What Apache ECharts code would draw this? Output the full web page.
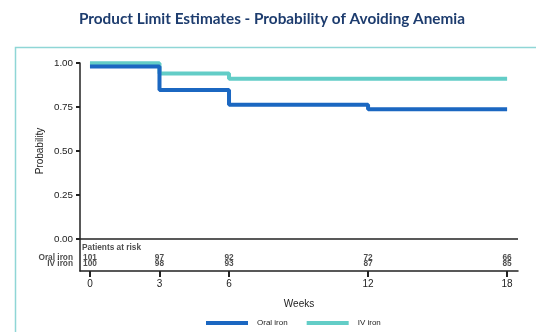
<!DOCTYPE html>
<html>
<head>
<meta charset="utf-8">
<script src="https://cdn.jsdelivr.net/npm/echarts@6/dist/echarts.min.js"></script>
<style>
  html, body { margin: 0; padding: 0; background: #fff; }
  #chart { width: 536px; height: 332px; }
</style>
</head>
<body>
<div id="chart"></div>
<script>
// Kaplan–Meier step estimates (weeks, probability)
const weeksOral = [0, 3, 6, 12, 18];
const probOral  = [0.98, 0.847, 0.763, 0.737, 0.737];
const weeksIV   = [0, 3, 6, 18];
const probIV    = [0.998, 0.941, 0.911, 0.911];

// Number at risk table
const riskWeeks = [0, 3, 6, 12, 18];
const riskOral  = [101, 97, 92, 72, 66];
const riskIV    = [100, 98, 93, 87, 85];

const xTicks = [0, 3, 6, 12, 18];
const yTicks = [0, 0.25, 0.5, 0.75, 1];

const COLOR_ORAL = '#1b67c1';
const COLOR_IV = '#63cdc7';
const TEXT = '#222';

// vertical positions of the at-risk table rows, below the 0.00 baseline
const Y_HEADER = -0.051, Y_ROW_ORAL = -0.106, Y_ROW_IV = -0.142;
const X_MIN = -0.43, X_MAX = 18.47, Y_MIN = -0.182;

const zip = (a, b) => a.map((v, i) => [v, b[i]]);

const chart = echarts.init(document.getElementById('chart'), null, { renderer: 'canvas' });

const tableLabel = (fmt, pos) => ({
  show: true, position: pos || 'inside', formatter: fmt,
  fontFamily: 'Liberation Sans', fontWeight: 'bold', fontSize: 8.3, color: TEXT
});

chart.setOption({
  animation: false,
  title: {
    text: 'Product Limit Estimates - Probability of Avoiding Anemia',
    left: 74, top: 7,
    textStyle: { fontFamily: 'Lato', fontWeight: 'bold', fontSize: 15.3, color: '#1d3c6e' }
  },
  graphic: [
    { type: 'rect', shape: { x: 15.5, y: 47.5, width: 600, height: 400 },
      style: { fill: 'none', stroke: '#8fd6d6', lineWidth: 1.5 }, z: -1 },
    { type: 'text', x: 40, y: 151, rotation: Math.PI / 2,
      style: { text: 'Probability', fontFamily: 'Liberation Sans', fontSize: 10,
               fill: TEXT, align: 'center', verticalAlign: 'middle' } }
  ],
  legend: {
    bottom: 0, left: 201,
    itemWidth: 42, itemHeight: 4, itemGap: 19,
    icon: 'rect',
    textStyle: { fontFamily: 'Liberation Sans', fontSize: 8, color: TEXT, padding: [0, 0, 0, 4] },
    data: ['Oral iron', 'IV iron']
  },
  grid: { left: 80, right: 18, top: 63, bottom: 61 },
  xAxis: {
    type: 'value', min: X_MIN, max: X_MAX,
    name: 'Weeks', nameLocation: 'middle', nameGap: 28,
    nameTextStyle: { fontFamily: 'Liberation Sans', fontSize: 10, color: TEXT },
    axisLine: { onZero: false, lineStyle: { color: '#222', width: 1.5 } },
    axisTick: { customValues: xTicks, length: 6, lineStyle: { color: '#222', width: 2 } },
    axisLabel: { customValues: xTicks, fontFamily: 'Liberation Sans', fontSize: 10, color: TEXT, margin: 8 },
    splitLine: { show: false }
  },
  yAxis: {
    type: 'value', min: Y_MIN, max: 1,
    axisLine: { show: true, onZero: false, lineStyle: { color: '#222', width: 1.5 } },
    axisTick: { customValues: yTicks, length: 4, lineStyle: { color: '#222', width: 2 } },
    axisLabel: { customValues: yTicks, formatter: v => v.toFixed(2),
                 fontFamily: 'Liberation Sans', fontSize: 9.8, color: TEXT, margin: 7 },
    splitLine: { show: false }
  },
  series: [
    {
      name: 'IV iron', type: 'line', step: 'end', showSymbol: false,
      data: zip(weeksIV, probIV),
      lineStyle: { color: COLOR_IV, width: 4 }, itemStyle: { color: COLOR_IV },
      markLine: {
        silent: true, symbol: 'none', label: { show: false },
        lineStyle: { color: '#222', width: 1.5, type: 'solid' },
        data: [{ yAxis: 0 }]
      }
    },
    {
      name: 'Oral iron', type: 'line', step: 'end', showSymbol: false,
      data: zip(weeksOral, probOral),
      lineStyle: { color: COLOR_ORAL, width: 4 }, itemStyle: { color: COLOR_ORAL }
    },
    {
      type: 'scatter', symbolSize: 0, silent: true,
      data: [[X_MIN, Y_HEADER]],
      label: Object.assign(tableLabel('Patients at risk', 'right'), { distance: 2 })
    },
    {
      type: 'scatter', symbolSize: 0, silent: true,
      data: [[X_MIN, Y_ROW_ORAL, 'Oral iron'], [X_MIN, Y_ROW_IV, 'IV iron']],
      label: Object.assign(tableLabel(p => p.data[2], 'left'), { distance: 7 })
    },
    {
      type: 'scatter', symbolSize: 0, silent: true,
      data: zip(riskWeeks, riskOral.map(() => Y_ROW_ORAL)).map((d, i) => [d[0], d[1], riskOral[i]]),
      label: tableLabel(p => p.data[2])
    },
    {
      type: 'scatter', symbolSize: 0, silent: true,
      data: zip(riskWeeks, riskIV.map(() => Y_ROW_IV)).map((d, i) => [d[0], d[1], riskIV[i]]),
      label: tableLabel(p => p.data[2])
    }
  ]
});
</script>
</body>
</html>
